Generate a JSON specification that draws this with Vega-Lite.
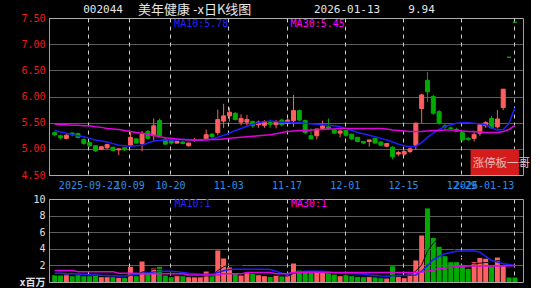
{
"$schema": "https://vega.github.io/schema/vega-lite/v6.json",
"background": "#000000",
"padding": {"left": 18, "top": 3, "right": 0, "bottom": 0},
"bounds": "flush",
"spacing": 24,
"config": {
  "view": {"stroke": "#A0A0A0", "strokeWidth": 1},
  "axis": {"labelFont": "DejaVu Sans Mono", "labelFontSize": 10, "ticks": false, "domain": false, "title": null, "labelOverlap": false}
},
"data": {"values": [
{"i":0,"open":5.31,"close":5.27,"high":5.33,"low":5.24,"vol":0.82,"ma10":5.35,"ma30":5.47,"vma5":0.85,"vma10":1.05,"vma30":1.38},
{"i":1,"open":5.25,"close":5.21,"high":5.27,"low":5.18,"vol":0.82,"ma10":5.32,"ma30":5.46,"vma5":0.85,"vma10":1.05,"vma30":1.38},
{"i":2,"open":5.20,"close":5.26,"high":5.28,"low":5.18,"vol":1.0,"ma10":5.30,"ma30":5.46,"vma5":0.87,"vma10":1.0,"vma30":1.38},
{"i":3,"open":5.30,"close":5.27,"high":5.32,"low":5.24,"vol":0.7,"ma10":5.27,"ma30":5.45,"vma5":0.85,"vma10":1.0,"vma30":1.38},
{"i":4,"open":5.29,"close":5.22,"high":5.31,"low":5.20,"vol":1.0,"ma10":5.25,"ma30":5.45,"vma5":0.87,"vma10":0.95,"vma30":1.25},
{"i":5,"open":5.18,"close":5.10,"high":5.20,"low":5.08,"vol":0.7,"ma10":5.23,"ma30":5.44,"vma5":0.84,"vma10":0.9,"vma30":1.25},
{"i":6,"open":5.12,"close":5.06,"high":5.14,"low":5.04,"vol":0.7,"ma10":5.20,"ma30":5.44,"vma5":0.82,"vma10":0.88,"vma30":1.25},
{"i":7,"open":5.06,"close":4.96,"high":5.07,"low":4.94,"vol":0.9,"ma10":5.17,"ma30":5.42,"vma5":0.8,"vma10":0.85,"vma30":1.25},
{"i":8,"open":4.99,"close":5.04,"high":5.05,"low":4.98,"vol":0.58,"ma10":5.15,"ma30":5.41,"vma5":0.78,"vma10":0.8,"vma30":1.25},
{"i":9,"open":5.02,"close":5.08,"high":5.10,"low":5.00,"vol":0.58,"ma10":5.13,"ma30":5.39,"vma5":0.69,"vma10":0.78,"vma30":1.25},
{"i":10,"open":5.03,"close":4.97,"high":5.04,"low":4.95,"vol":0.58,"ma10":5.10,"ma30":5.38,"vma5":0.67,"vma10":0.75,"vma30":1.25},
{"i":11,"open":4.98,"close":5.00,"high":5.01,"low":4.88,"vol":0.5,"ma10":5.07,"ma30":5.37,"vma5":0.63,"vma10":0.72,"vma30":1.05},
{"i":12,"open":5.02,"close":4.98,"high":5.03,"low":4.96,"vol":0.5,"ma10":5.06,"ma30":5.35,"vma5":0.55,"vma10":0.72,"vma30":1.05},
{"i":13,"open":5.07,"close":5.22,"high":5.33,"low":5.04,"vol":1.83,"ma10":5.05,"ma30":5.33,"vma5":0.8,"vma10":0.85,"vma30":1.05},
{"i":14,"open":5.19,"close":5.11,"high":5.20,"low":5.10,"vol":0.7,"ma10":5.06,"ma30":5.31,"vma5":0.82,"vma10":0.9,"vma30":1.05},
{"i":15,"open":5.10,"close":5.28,"high":5.34,"low":4.95,"vol":2.47,"ma10":5.07,"ma30":5.30,"vma5":1.2,"vma10":1.05,"vma30":0.98},
{"i":16,"open":5.33,"close":5.20,"high":5.36,"low":5.18,"vol":1.0,"ma10":5.11,"ma30":5.28,"vma5":1.3,"vma10":1.1,"vma30":0.98},
{"i":17,"open":5.25,"close":5.44,"high":5.58,"low":5.14,"vol":1.63,"ma10":5.15,"ma30":5.26,"vma5":1.53,"vma10":1.2,"vma30":0.98},
{"i":18,"open":5.54,"close":5.25,"high":5.58,"low":5.23,"vol":1.83,"ma10":5.16,"ma30":5.23,"vma5":1.53,"vma10":1.28,"vma30":0.98},
{"i":19,"open":5.18,"close":5.09,"high":5.22,"low":5.07,"vol":0.78,"ma10":5.17,"ma30":5.21,"vma5":1.54,"vma10":1.3,"vma30":0.98},
{"i":20,"open":5.17,"close":5.11,"high":5.20,"low":5.08,"vol":0.58,"ma10":5.17,"ma30":5.20,"vma5":1.16,"vma10":1.3,"vma30":0.98},
{"i":21,"open":5.11,"close":5.14,"high":5.16,"low":5.10,"vol":0.7,"ma10":5.17,"ma30":5.19,"vma5":1.1,"vma10":1.25,"vma30":0.98},
{"i":22,"open":5.13,"close":5.10,"high":5.15,"low":5.09,"vol":0.7,"ma10":5.18,"ma30":5.18,"vma5":0.92,"vma10":1.15,"vma30":0.98},
{"i":23,"open":5.06,"close":5.11,"high":5.12,"low":5.04,"vol":0.58,"ma10":5.18,"ma30":5.17,"vma5":0.67,"vma10":1.05,"vma30":0.85},
{"i":24,"open":5.16,"close":5.18,"high":5.21,"low":5.14,"vol":0.58,"ma10":5.17,"ma30":5.17,"vma5":0.63,"vma10":0.98,"vma30":0.85},
{"i":25,"open":5.16,"close":5.18,"high":5.19,"low":5.15,"vol":0.58,"ma10":5.17,"ma30":5.17,"vma5":0.63,"vma10":0.92,"vma30":0.85},
{"i":26,"open":5.18,"close":5.27,"high":5.37,"low":5.16,"vol":1.26,"ma10":5.18,"ma30":5.17,"vma5":0.74,"vma10":0.92,"vma30":0.85},
{"i":27,"open":5.28,"close":5.23,"high":5.30,"low":5.21,"vol":0.7,"ma10":5.19,"ma30":5.18,"vma5":0.74,"vma10":0.95,"vma30":0.85},
{"i":28,"open":5.31,"close":5.56,"high":5.75,"low":5.26,"vol":3.8,"ma10":5.22,"ma30":5.18,"vma5":1.38,"vma10":1.15,"vma30":0.85},
{"i":29,"open":5.53,"close":5.63,"high":5.86,"low":5.40,"vol":2.83,"ma10":5.26,"ma30":5.19,"vma5":1.83,"vma10":1.35,"vma30":0.98},
{"i":30,"open":5.63,"close":5.70,"high":5.79,"low":5.52,"vol":1.75,"ma10":5.30,"ma30":5.20,"vma5":2.07,"vma10":1.5,"vma30":0.98},
{"i":31,"open":5.68,"close":5.56,"high":5.70,"low":5.54,"vol":1.0,"ma10":5.35,"ma30":5.21,"vma5":2.02,"vma10":1.55,"vma30":0.98},
{"i":32,"open":5.51,"close":5.58,"high":5.66,"low":5.45,"vol":0.78,"ma10":5.39,"ma30":5.22,"vma5":2.03,"vma10":1.55,"vma30":0.98},
{"i":33,"open":5.51,"close":5.56,"high":5.65,"low":5.44,"vol":1.06,"ma10":5.43,"ma30":5.23,"vma5":1.48,"vma10":1.55,"vma30":1.15},
{"i":34,"open":5.52,"close":5.44,"high":5.54,"low":5.40,"vol":1.0,"ma10":5.47,"ma30":5.24,"vma5":1.12,"vma10":1.55,"vma30":1.15},
{"i":35,"open":5.46,"close":5.51,"high":5.54,"low":5.40,"vol":0.82,"ma10":5.50,"ma30":5.25,"vma5":0.93,"vma10":1.55,"vma30":1.15},
{"i":36,"open":5.45,"close":5.52,"high":5.55,"low":5.40,"vol":0.7,"ma10":5.52,"ma30":5.26,"vma5":0.87,"vma10":1.55,"vma30":1.15},
{"i":37,"open":5.50,"close":5.47,"high":5.56,"low":5.40,"vol":0.62,"ma10":5.53,"ma30":5.27,"vma5":0.84,"vma10":1.5,"vma30":1.15},
{"i":38,"open":5.46,"close":5.52,"high":5.55,"low":5.39,"vol":0.82,"ma10":5.52,"ma30":5.29,"vma5":0.79,"vma10":1.3,"vma30":1.0},
{"i":39,"open":5.55,"close":5.46,"high":5.58,"low":5.43,"vol":0.7,"ma10":5.51,"ma30":5.31,"vma5":0.73,"vma10":1.05,"vma30":1.0},
{"i":40,"open":5.49,"close":5.55,"high":5.58,"low":5.47,"vol":0.78,"ma10":5.51,"ma30":5.33,"vma5":0.72,"vma10":0.95,"vma30":1.02},
{"i":41,"open":5.54,"close":5.73,"high":6.03,"low":5.42,"vol":2.23,"ma10":5.50,"ma30":5.34,"vma5":1.03,"vma10":1.1,"vma30":1.15},
{"i":42,"open":5.73,"close":5.55,"high":5.75,"low":5.53,"vol":1.38,"ma10":5.50,"ma30":5.35,"vma5":1.18,"vma10":1.2,"vma30":1.18},
{"i":43,"open":5.54,"close":5.31,"high":5.56,"low":5.28,"vol":1.1,"ma10":5.49,"ma30":5.35,"vma5":1.24,"vma10":1.3,"vma30":1.18},
{"i":44,"open":5.25,"close":5.19,"high":5.39,"low":5.18,"vol":1.1,"ma10":5.48,"ma30":5.36,"vma5":1.32,"vma10":1.3,"vma30":1.18},
{"i":45,"open":5.25,"close":5.38,"high":5.38,"low":5.18,"vol":1.1,"ma10":5.47,"ma30":5.37,"vma5":1.38,"vma10":1.3,"vma30":1.18},
{"i":46,"open":5.39,"close":5.44,"high":5.54,"low":5.36,"vol":1.1,"ma10":5.46,"ma30":5.37,"vma5":1.16,"vma10":1.3,"vma30":1.15},
{"i":47,"open":5.42,"close":5.39,"high":5.58,"low":5.36,"vol":1.1,"ma10":5.45,"ma30":5.38,"vma5":1.1,"vma10":1.25,"vma30":1.15},
{"i":48,"open":5.36,"close":5.30,"high":5.38,"low":5.28,"vol":0.9,"ma10":5.44,"ma30":5.38,"vma5":1.06,"vma10":1.1,"vma30":1.15},
{"i":49,"open":5.30,"close":5.34,"high":5.36,"low":5.22,"vol":0.7,"ma10":5.42,"ma30":5.39,"vma5":0.98,"vma10":1.05,"vma30":1.15},
{"i":50,"open":5.35,"close":5.26,"high":5.36,"low":5.23,"vol":0.82,"ma10":5.39,"ma30":5.39,"vma5":0.92,"vma10":1.05,"vma30":1.15},
{"i":51,"open":5.28,"close":5.19,"high":5.29,"low":5.16,"vol":0.7,"ma10":5.35,"ma30":5.39,"vma5":0.84,"vma10":1.02,"vma30":1.15},
{"i":52,"open":5.22,"close":5.14,"high":5.23,"low":5.12,"vol":0.62,"ma10":5.31,"ma30":5.39,"vma5":0.75,"vma10":1.0,"vma30":1.15},
{"i":53,"open":5.14,"close":5.11,"high":5.15,"low":5.09,"vol":0.58,"ma10":5.29,"ma30":5.39,"vma5":0.68,"vma10":0.95,"vma30":1.15},
{"i":54,"open":5.14,"close":5.17,"high":5.17,"low":5.04,"vol":0.62,"ma10":5.26,"ma30":5.39,"vma5":0.67,"vma10":0.85,"vma30":1.15},
{"i":55,"open":5.20,"close":5.11,"high":5.21,"low":5.10,"vol":0.58,"ma10":5.23,"ma30":5.39,"vma5":0.62,"vma10":0.78,"vma30":1.15},
{"i":56,"open":5.13,"close":5.07,"high":5.14,"low":5.05,"vol":0.46,"ma10":5.20,"ma30":5.39,"vma5":0.57,"vma10":0.72,"vma30":1.15},
{"i":57,"open":5.05,"close":5.10,"high":5.11,"low":5.03,"vol":0.42,"ma10":5.17,"ma30":5.38,"vma5":0.53,"vma10":0.7,"vma30":1.15},
{"i":58,"open":5.03,"close":4.85,"high":5.05,"low":4.80,"vol":1.9,"ma10":5.13,"ma30":5.36,"vma5":0.8,"vma10":0.75,"vma30":1.15},
{"i":59,"open":4.90,"close":4.93,"high":4.96,"low":4.86,"vol":0.62,"ma10":5.09,"ma30":5.35,"vma5":0.8,"vma10":0.78,"vma30":1.15},
{"i":60,"open":4.90,"close":4.95,"high":4.97,"low":4.87,"vol":0.46,"ma10":5.06,"ma30":5.34,"vma5":0.77,"vma10":0.78,"vma30":1.15},
{"i":61,"open":4.95,"close":5.00,"high":5.03,"low":4.92,"vol":1.02,"ma10":5.04,"ma30":5.33,"vma5":0.88,"vma10":0.8,"vma30":1.15},
{"i":62,"open":5.07,"close":5.49,"high":5.50,"low":4.98,"vol":2.6,"ma10":5.05,"ma30":5.33,"vma5":1.32,"vma10":0.85,"vma30":1.15},
{"i":63,"open":5.77,"close":6.03,"high":6.05,"low":5.49,"vol":5.6,"ma10":5.12,"ma30":5.33,"vma5":2.06,"vma10":1.3,"vma30":1.2},
{"i":64,"open":6.31,"close":6.09,"high":6.47,"low":5.90,"vol":8.86,"ma10":5.22,"ma30":5.34,"vma5":3.71,"vma10":2.0,"vma30":1.3},
{"i":65,"open":6.00,"close":5.68,"high":6.03,"low":5.65,"vol":5.3,"ma10":5.30,"ma30":5.35,"vma5":4.67,"vma10":2.7,"vma30":1.45},
{"i":66,"open":5.71,"close":5.49,"high":5.74,"low":5.46,"vol":4.24,"ma10":5.37,"ma30":5.35,"vma5":5.32,"vma10":3.1,"vma30":1.6},
{"i":67,"open":5.44,"close":5.42,"high":5.49,"low":5.36,"vol":3.11,"ma10":5.43,"ma30":5.36,"vma5":5.42,"vma10":3.4,"vma30":1.7},
{"i":68,"open":5.40,"close":5.39,"high":5.43,"low":5.36,"vol":2.39,"ma10":5.46,"ma30":5.36,"vma5":4.78,"vma10":3.55,"vma30":1.78},
{"i":69,"open":5.37,"close":5.34,"high":5.40,"low":5.32,"vol":2.39,"ma10":5.49,"ma30":5.35,"vma5":3.48,"vma10":3.7,"vma30":1.83},
{"i":70,"open":5.31,"close":5.17,"high":5.32,"low":5.15,"vol":2.07,"ma10":5.50,"ma30":5.34,"vma5":2.84,"vma10":3.72,"vma30":1.88},
{"i":71,"open":5.20,"close":5.18,"high":5.23,"low":5.15,"vol":1.59,"ma10":5.50,"ma30":5.33,"vma5":2.31,"vma10":3.72,"vma30":1.92},
{"i":72,"open":5.20,"close":5.27,"high":5.33,"low":5.14,"vol":2.39,"ma10":5.49,"ma30":5.33,"vma5":2.17,"vma10":3.72,"vma30":1.92},
{"i":73,"open":5.30,"close":5.46,"high":5.48,"low":5.25,"vol":2.9,"ma10":5.48,"ma30":5.32,"vma5":2.27,"vma10":3.6,"vma30":1.92},
{"i":74,"open":5.44,"close":5.50,"high":5.53,"low":5.40,"vol":2.8,"ma10":5.46,"ma30":5.31,"vma5":2.35,"vma10":3.1,"vma30":1.92},
{"i":75,"open":5.58,"close":5.40,"high":5.63,"low":5.38,"vol":1.9,"ma10":5.40,"ma30":5.31,"vma5":2.32,"vma10":2.6,"vma30":1.92},
{"i":76,"open":5.42,"close":5.57,"high":5.74,"low":5.39,"vol":2.95,"ma10":5.36,"ma30":5.31,"vma5":2.59,"vma10":2.4,"vma30":1.92},
{"i":77,"open":5.79,"close":6.14,"high":6.14,"low":5.74,"vol":1.9,"ma10":5.37,"ma30":5.33,"vma5":2.49,"vma10":2.2,"vma30":1.92},
{"i":78,"open":6.75,"close":6.75,"high":6.75,"low":6.75,"vol":0.54,"ma10":5.49,"ma30":5.37,"vma5":2.02,"vma10":2.1,"vma30":1.95},
{"i":79,"open":7.42,"close":7.42,"high":7.42,"low":7.42,"vol":0.54,"ma10":5.78,"ma30":5.45,"vma5":1.57,"vma10":2.0,"vma30":2.0}
]},
"vconcat": [
{
  "width": 474, "height": 157,
  "layer": [
    {"mark": {"type": "rule", "strokeWidth": 1},
     "encoding": {
       "x": {"field": "i", "type": "quantitative",
         "scale": {"domain": [-0.12, 79.54], "nice": false, "zero": false},
         "axis": {"values": [5.8, 12.8, 19.8, 29.8, 39.8, 49.8, 59.8, 69.8, 78.8], "tickCount": 30,
           "grid": true, "gridColor": "#D0D0D0", "gridDash": [4, 4], "gridWidth": 1,
           "labelColor": "#2E8FE6", "labelPadding": 5, "labelFlush": false, "labelBound": false, "labelOverlap": false,
           "labelExpr": "datum.value < 6 ? '2025-09-22' : datum.value < 13 ? '10-09' : datum.value < 20 ? '10-20' : datum.value < 30 ? '11-03' : datum.value < 40 ? '11-17' : datum.value < 50 ? '12-01' : datum.value < 60 ? '12-15' : datum.value < 70 ? '12-29' : '2026-01-13'",
           "labelAlign": {"condition": {"test": "datum.value > 78", "value": "right"}, "value": "center"}}},
       "y": {"field": "low", "type": "quantitative",
         "scale": {"domain": [4.5, 7.5], "nice": false, "zero": false},
         "axis": {"values": [4.5, 5, 5.5, 6, 6.5, 7, 7.5], "tickCount": 30, "format": ".2f", "grid": true, "gridColor": "#B8B8B8", "gridDash": [1, 1], "labelColor": "#F01818", "labelPadding": 4, "labelOverlap": false, "labelBound": false, "labelFlush": false}},
       "y2": {"field": "high"},
       "color": {"condition": {"test": "datum.close > datum.open", "value": "#FF5F5F"}, "value": "#00AA00"}
     }},
    {"mark": {"type": "bar", "size": 4, "strokeWidth": 1},
     "encoding": {
       "x": {"field": "i", "type": "quantitative"},
       "y": {"field": "open", "type": "quantitative"},
       "y2": {"field": "close"},
       "color": {"condition": {"test": "datum.close > datum.open", "value": "#FF5F5F"}, "value": "#00AA00"},
       "stroke": {"condition": {"test": "datum.close > datum.open", "value": "#FF5F5F"}, "value": "#00AA00"}
     }},
    {"mark": {"type": "line", "color": "#1E1EFF", "strokeWidth": 1.5},
     "encoding": {"x": {"field": "i", "type": "quantitative"}, "y": {"field": "ma10", "type": "quantitative"}}},
    {"mark": {"type": "line", "color": "#E000E0", "strokeWidth": 1.5},
     "encoding": {"x": {"field": "i", "type": "quantitative"}, "y": {"field": "ma30", "type": "quantitative"}}},
    {"data": {"values": [{}]},
     "mark": {"type": "text", "text": "MA10:5.78", "align": "left", "baseline": "middle", "font": "DejaVu Sans Mono", "fontSize": 10, "color": "#2424FF"},
     "encoding": {"x": {"datum": 20.5, "type": "quantitative"}, "y": {"datum": 7.385, "type": "quantitative"}}},
    {"data": {"values": [{}]},
     "mark": {"type": "text", "text": "MA30:5.45", "align": "left", "baseline": "middle", "font": "DejaVu Sans Mono", "fontSize": 10, "color": "#FF00FF"},
     "encoding": {"x": {"datum": 40.5, "type": "quantitative"}, "y": {"datum": 7.385, "type": "quantitative"}}},
    {"data": {"values": [{}]},
     "mark": {"type": "text", "text": "002044", "align": "left", "baseline": "middle", "font": "DejaVu Sans Mono", "fontSize": 11, "color": "#E6E6E6"},
     "encoding": {"x": {"datum": 4.9, "type": "quantitative"}, "y": {"datum": 7.65, "type": "quantitative"}}},
    {"data": {"values": [{}]},
     "mark": {"type": "text", "text": "美年健康  -x日K线图", "align": "left", "baseline": "middle", "font": "Noto Sans CJK SC", "fontSize": 13, "color": "#E6E6E6"},
     "encoding": {"x": {"datum": 14.3, "type": "quantitative"}, "y": {"datum": 7.65, "type": "quantitative"}}},
    {"data": {"values": [{}]},
     "mark": {"type": "text", "text": "2026-01-13", "align": "left", "baseline": "middle", "font": "DejaVu Sans Mono", "fontSize": 11, "color": "#E6E6E6"},
     "encoding": {"x": {"datum": 44.5, "type": "quantitative"}, "y": {"datum": 7.65, "type": "quantitative"}}},
    {"data": {"values": [{}]},
     "mark": {"type": "text", "text": "9.94", "align": "left", "baseline": "middle", "font": "DejaVu Sans Mono", "fontSize": 11, "color": "#E6E6E6"},
     "encoding": {"x": {"datum": 60.7, "type": "quantitative"}, "y": {"datum": 7.65, "type": "quantitative"}}},
    {"data": {"values": [{}]},
     "mark": {"type": "rect", "color": "#D41C1C"},
     "encoding": {"x": {"datum": 71.4, "type": "quantitative"}, "x2": {"datum": 79.7}, "y": {"datum": 4.995, "type": "quantitative"}, "y2": {"datum": 4.5}}},
    {"data": {"values": [{}]},
     "mark": {"type": "text", "text": "涨停板一哥", "align": "left", "baseline": "middle", "font": "Noto Sans CJK SC", "fontSize": 11.5, "color": "#EBB8B8"},
     "encoding": {"x": {"datum": 71.75, "type": "quantitative"}, "y": {"datum": 4.714, "type": "quantitative"}}}
  ]
},
{
  "width": 474, "height": 83,
  "layer": [
    {"mark": {"type": "bar", "size": 5},
     "encoding": {
       "x": {"field": "i", "type": "quantitative",
         "scale": {"domain": [-0.12, 79.54], "nice": false, "zero": false},
         "axis": {"values": [5.8, 12.8, 19.8, 29.8, 39.8, 49.8, 59.8, 69.8, 78.8], "tickCount": 30,
           "grid": true, "gridColor": "#D0D0D0", "gridDash": [4, 4], "gridWidth": 1, "labels": false}},
       "y": {"field": "vol", "type": "quantitative",
         "scale": {"domain": [0, 10], "nice": false},
         "axis": {"values": [0, 2, 4, 6, 8, 10], "tickCount": 30, "format": "d", "grid": true, "gridColor": "#B8B8B8", "gridDash": [1, 1],
           "labelColor": "#E0E0E0", "labelPadding": 4, "labelFont": "DejaVu Sans Mono, Noto Sans CJK SC",
           "labelOverlap": false, "labelBound": false, "labelFlush": false,
           "labelExpr": "datum.value == 0 ? 'x百万' : datum.label",
           "labelFontWeight": {"condition": {"test": "datum.value == 0", "value": "bold"}, "value": "normal"}}},
       "color": {"condition": {"test": "datum.close > datum.open", "value": "#FF6060"}, "value": "#00AA00"}
     }},
    {"mark": {"type": "line", "color": "#101010", "strokeWidth": 1},
     "encoding": {"x": {"field": "i", "type": "quantitative"}, "y": {"field": "vma5", "type": "quantitative"}}},
    {"mark": {"type": "line", "color": "#1E1EFF", "strokeWidth": 1.5},
     "encoding": {"x": {"field": "i", "type": "quantitative"}, "y": {"field": "vma10", "type": "quantitative"}}},
    {"mark": {"type": "line", "color": "#E000E0", "strokeWidth": 1.5},
     "encoding": {"x": {"field": "i", "type": "quantitative"}, "y": {"field": "vma30", "type": "quantitative"}}},
    {"data": {"values": [{}]},
     "mark": {"type": "text", "text": "MA10:1", "align": "left", "baseline": "middle", "font": "DejaVu Sans Mono", "fontSize": 10, "color": "#2424FF"},
     "encoding": {"x": {"datum": 20.55, "type": "quantitative"}, "y": {"datum": 9.34, "type": "quantitative"}}},
    {"data": {"values": [{}]},
     "mark": {"type": "text", "text": "MA30:1", "align": "left", "baseline": "middle", "font": "DejaVu Sans Mono", "fontSize": 10, "color": "#FF00FF"},
     "encoding": {"x": {"datum": 40.55, "type": "quantitative"}, "y": {"datum": 9.34, "type": "quantitative"}}}
  ]
}
]
}
